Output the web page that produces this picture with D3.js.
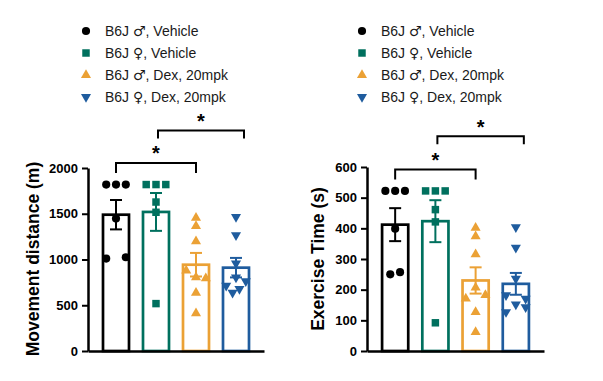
<!DOCTYPE html>
<html>
<head>
<meta charset="utf-8">
<script src="https://cdn.jsdelivr.net/npm/d3@7"></script>
<style>
  body { margin: 0; background: #fff; }
  text { font-family: Arial, "Liberation Sans", sans-serif; }
  .legend .sym { font-family: "DejaVu Sans", sans-serif; }
</style>
</head>
<body>
<svg id="chart" width="603" height="381"></svg>
<script>
// groups and palette
const groups = ['B6J ♂, Vehicle', 'B6J ♀, Vehicle', 'B6J ♂, Dex, 20mpk', 'B6J ♀, Dex, 20mpk'];
const groupColors = ['#000000', '#00705e', '#eba135', '#1f5c9e'];
const groupShapes = ['circle', 'square', 'up', 'down'];

// Movement distance (m), one array per group
const distMaleVeh = [1819, 1819, 1819, 1447, 1010, 1024];
const distFemVeh = [1819, 1819, 1819, 1628, 1516, 518];
const distMaleDex = [1456, 1365, 1198, 878, 805, 795, 636, 412];
const distFemDex = [1466, 1265, 957, 805, 715, 762, 637, 679];
// column of each point inside its cluster (-1 left, 0 middle, 1 right)
const distMaleVehCol = [-1, 0, 1, 0, -1, 1];
const distFemVehCol = [-1, 0, 1, 0, 0, 0];
const distMaleDexCol = [0, 0, 0, -1, 0, 1, 0, 0];
const distFemDexCol = [0, 0, 0, 0, -1, 1, -0.35, 0.35];
const distTicks = [0, 500, 1000, 1500, 2000];
// significance: [from group, to group, bracket height in data units]
const distSig = [[0, 2, 2055], [1, 3, 2410]];

// Exercise time (s)
const timeMaleVeh = [522, 522, 522, 399, 250, 257];
const timeFemVeh = [522, 522, 522, 461, 421, 92];
const timeMaleDex = [402, 374, 315, 207, 171, 182, 127, 62];
const timeFemDex = [404, 337, 236, 182, 152, 171, 143, 127];
const timeMaleVehCol = [-1, 0, 1, 0, -0.5, 0.5];
const timeFemVehCol = [-1, 0, 1, 0, 0, 0];
const timeMaleDexCol = [0, 0, 0, 0, -1, 1, 0, 0];
const timeFemDexCol = [0, 0, 0, -1, 0, 1, 1, -1];
const timeTicks = [0, 100, 200, 300, 400, 500, 600];
const timeSig = [[0, 2, 592], [1, 3, 700]];

const svg = d3.select('#chart');

function shapePath(shape) {
  if (shape === 'circle') return d3.symbol().type(d3.symbolCircle).size(52)();
  if (shape === 'square') return d3.symbol().type(d3.symbolSquare).size(56)();
  return d3.symbol().type(d3.symbolTriangle).size(44)();
}

function drawPanel(opts) {
  const g = svg.append('g');

  const x = d3.scaleBand()
    .domain(groups)
    .range([opts.left, opts.right])
    .paddingInner(0.35)
    .paddingOuter(0.375);

  const y = d3.scaleLinear()
    .domain([0, opts.max])
    .range([351, opts.top]);

  const series = groups.map((name, i) => {
    const vals = opts.values[i];
    const mean = d3.mean(vals);
    const sem = d3.deviation(vals) / Math.sqrt(vals.length);
    return { name, i, vals, cols: opts.cols[i], mean, sem };
  });

  // bars
  g.selectAll('.bar')
    .data(series)
    .enter().append('rect')
    .attr('class', 'bar')
    .attr('x', d => x(d.name))
    .attr('y', d => y(d.mean))
    .attr('width', x.bandwidth())
    .attr('height', d => y(0) - y(d.mean))
    .style('fill', '#fff')
    .style('stroke', d => groupColors[d.i])
    .style('stroke-width', 2.7);

  // points
  const jitter = 9.8;
  series.forEach(s => {
    const cx = x(s.name) + x.bandwidth() / 2;
    g.selectAll(null)
      .data(s.vals)
      .enter().append('path')
      .attr('d', shapePath(groupShapes[s.i]))
      .attr('transform', (v, k) => 'translate(' + (cx + s.cols[k] * jitter) + ',' + y(v) + ')' +
        (groupShapes[s.i] === 'down' ? ' rotate(180)' : ''))
      .style('fill', groupColors[s.i]);
  });

  // error bars (mean +/- SEM)
  const cap = 6;
  series.forEach(s => {
    const cx = x(s.name) + x.bandwidth() / 2;
    const eg = g.append('g')
      .style('stroke', groupColors[s.i])
      .style('stroke-width', 2)
      .style('fill', 'none');
    eg.append('line')
      .attr('x1', cx).attr('x2', cx)
      .attr('y1', y(s.mean + s.sem)).attr('y2', y(s.mean - s.sem));
    [s.mean + s.sem, s.mean - s.sem].forEach(v => {
      eg.append('line')
        .attr('x1', cx - cap).attr('x2', cx + cap)
        .attr('y1', y(v)).attr('y2', y(v));
    });
  });

  // axes
  const yAxis = g.append('g')
    .attr('transform', 'translate(' + opts.left + ',0)')
    .call(d3.axisLeft(y).tickValues(opts.ticks).tickFormat(d3.format('d'))
      .tickSize(6).tickSizeOuter(0).tickPadding(4));
  yAxis.attr('font-family', null).attr('font-size', null);
  yAxis.select('.domain').style('stroke-width', 2.5);
  yAxis.selectAll('.tick line').style('stroke-width', 2);
  yAxis.selectAll('.tick text')
    .style('font-size', '13px')
    .style('font-weight', 'bold')
    .style('fill', '#000');

  const xAxis = g.append('g')
    .attr('transform', 'translate(0,' + y(0) + ')')
    .call(d3.axisBottom(x).tickSize(0).tickSizeOuter(0).tickFormat(''));
  xAxis.select('.domain').style('stroke-width', 2.5);

  // axis title
  g.append('text')
    .attr('transform', 'translate(' + opts.titleX + ',259) rotate(-90)')
    .attr('text-anchor', 'middle')
    .style('font-size', '17.5px')
    .style('font-weight', 'bold')
    .text(opts.title);

  // significance brackets
  opts.sig.forEach(([a, b, v], k) => {
    const x1 = x(groups[a]) + x.bandwidth() / 2 + (k === 1 ? 2 : 0);
    const x2 = x(groups[b]) + x.bandwidth() / 2 + (k === 1 ? 8 : 0);
    const by = y(v);
    const drop = k === 0 ? 10 : 8;
    g.append('path')
      .attr('d', 'M' + x1 + ',' + (by + drop) + 'V' + by + 'H' + x2 + 'V' + (by + drop))
      .style('fill', 'none')
      .style('stroke', '#000')
      .style('stroke-width', 2);
    g.append('text')
      .attr('x', (x1 + x2) / 2)
      .attr('y', by - 2.5)
      .attr('text-anchor', 'middle')
      .style('font-size', '20px')
      .style('font-weight', 'bold')
      .text('*');
  });

  // legend
  const lg = g.append('g').attr('class', 'legend');
  groups.forEach((name, i) => {
    const ly = 31 + i * 22;
    lg.append('path')
      .attr('d', shapePath(groupShapes[i]))
      .attr('transform', 'translate(' + opts.legendX + ',' + ly + ')' + (groupShapes[i] === 'down' ? ' rotate(180)' : ''))
      .style('fill', groupColors[i]);
    const t = lg.append('text')
      .attr('x', opts.legendX + 19)
      .attr('y', ly)
      .attr('dy', '0.35em')
      .style('font-size', '14px')
      .style('fill', '#1a1a1a');
    // sex symbols come from DejaVu, which draws them at full size
    name.split(/([♂♀])/).forEach(part => {
      if (!part) return;
      t.append('tspan')
        .attr('class', /[♂♀]/.test(part) ? 'sym' : null)
        .text(part);
    });
  });
}

drawPanel({
  left: 88, right: 264, top: 168, max: 2000,
  values: [distMaleVeh, distFemVeh, distMaleDex, distFemDex],
  cols: [distMaleVehCol, distFemVehCol, distMaleDexCol, distFemDexCol],
  ticks: distTicks, sig: distSig,
  title: 'Movement distance (m)', titleX: 38.5, legendX: 86
});

drawPanel({
  left: 367, right: 544, top: 167, max: 600,
  values: [timeMaleVeh, timeFemVeh, timeMaleDex, timeFemDex],
  cols: [timeMaleVehCol, timeFemVehCol, timeMaleDexCol, timeFemDexCol],
  ticks: timeTicks, sig: timeSig,
  title: 'Exercise Time (s)', titleX: 323.5, legendX: 362
});
</script>
</body>
</html>
